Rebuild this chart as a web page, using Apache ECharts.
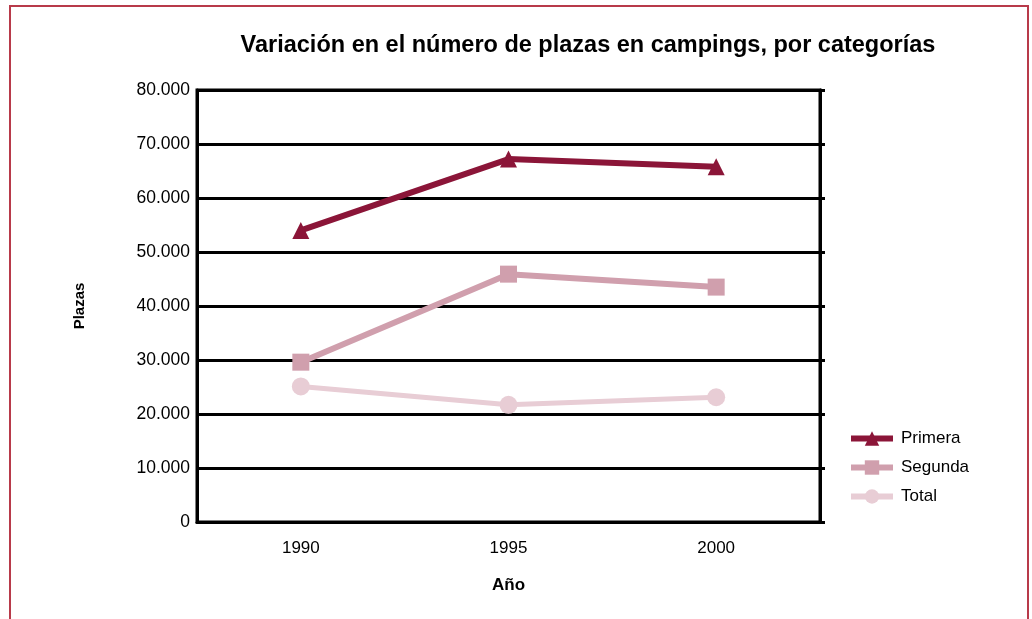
<!DOCTYPE html>
<html>
<head>
<meta charset="utf-8">
<script src="https://cdn.jsdelivr.net/npm/echarts@6/dist/echarts.min.js"></script>
<style>
  html, body { margin: 0; padding: 0; background: #ffffff; }
  #wrap { position: relative; width: 1032px; height: 619px; overflow: hidden; }
  #frame {
    position: absolute; left: 9px; top: 5px; width: 1020px; height: 640px;
    border: 2px solid #b83a4a; box-sizing: border-box;
  }
  #chart { position: absolute; left: 0; top: 0; width: 1032px; height: 619px; }
</style>
</head>
<body>
<div id="wrap">
  <div id="frame"></div>
  <div id="chart"></div>
</div>
<script>
// datos del gráfico
const years = ["1990", "1995", "2000"];
const primera = [54000, 67200, 65800];
const segunda = [29600, 45900, 43500];
const total = [25100, 21700, 23100];

const fmt = (v) => v === 0 ? "0" : (v / 1000).toFixed(0) + ".000";

const chart = echarts.init(document.getElementById("chart"), null, { renderer: "canvas" });

const options = {
  backgroundColor: "transparent",
  animation: false,
  textStyle: { fontFamily: "Liberation Sans, Arial, sans-serif" },
  title: {
    text: "Variación en el número de plazas en campings, por categorías",
    left: 583,
    textAlign: "center",
    top: 29,
    textStyle: { fontSize: 23.5, fontWeight: "bold", color: "#000000" },
  },
  legend: {
    orient: "vertical",
    left: 843,
    top: 425,
    itemWidth: 42,
    itemHeight: 18,
    itemGap: 12,
    lineStyle: { width: 6 },
    textStyle: { fontSize: 17, color: "#000000", padding: [0, 0, 0, 3] },
    data: ["Primera", "Segunda", "Total"],
  },
  grid: {
    left: 197,
    right: 212,
    top: 90,
    bottom: 97,
    show: true,
    borderColor: "#000000",
    borderWidth: 3,
  },
  xAxis: {
    type: "category",
    data: years,
    boundaryGap: true,
    name: "Año",
    nameLocation: "middle",
    nameGap: 55,
    nameTextStyle: { fontSize: 17, fontWeight: "bold", color: "#000000" },
    axisLine: { show: true, lineStyle: { color: "#000000", width: 3 } },
    axisTick: { show: false },
    axisLabel: { fontSize: 17, color: "#000000", margin: 18 },
  },
  yAxis: [
    {
      type: "value",
      min: 0,
      max: 80000,
      interval: 10000,
      name: "Plazas",
      nameLocation: "middle",
      nameGap: 110,
      nameRotate: 90,
      nameTextStyle: { fontSize: 15, fontWeight: "bold", color: "#000000" },
      axisLine: { show: true, lineStyle: { color: "#000000", width: 3 } },
      axisTick: { show: false },
      axisLabel: { fontSize: 17.5, color: "#000000", margin: 7, formatter: fmt },
      splitLine: { show: true, lineStyle: { color: "#000000", width: 3 } },
    },
    {
      type: "value",
      position: "right",
      min: 0,
      max: 80000,
      interval: 10000,
      axisLine: { show: true, lineStyle: { color: "#000000", width: 3 } },
      axisTick: { show: true, inside: false, length: 5, lineStyle: { color: "#000000", width: 3 } },
      axisLabel: { show: false },
      splitLine: { show: false },
    },
  ],
  series: [
    {
      name: "Primera",
      type: "line",
      data: primera,
      symbol: "triangle",
      symbolSize: 17,
      lineStyle: { color: "#8b1538", width: 6 },
      itemStyle: { color: "#8b1538" },
      z: 4,
    },
    {
      name: "Segunda",
      type: "line",
      data: segunda,
      symbol: "rect",
      symbolSize: 17,
      lineStyle: { color: "#d09fad", width: 6 },
      itemStyle: { color: "#d09fad" },
      z: 3,
    },
    {
      name: "Total",
      type: "line",
      data: total,
      symbol: "circle",
      symbolSize: 18,
      lineStyle: { color: "#e8cdd5", width: 5 },
      itemStyle: { color: "#e8cdd5" },
      z: 2,
    },
  ],
};

chart.setOption(options);
</script>
</body>
</html>
